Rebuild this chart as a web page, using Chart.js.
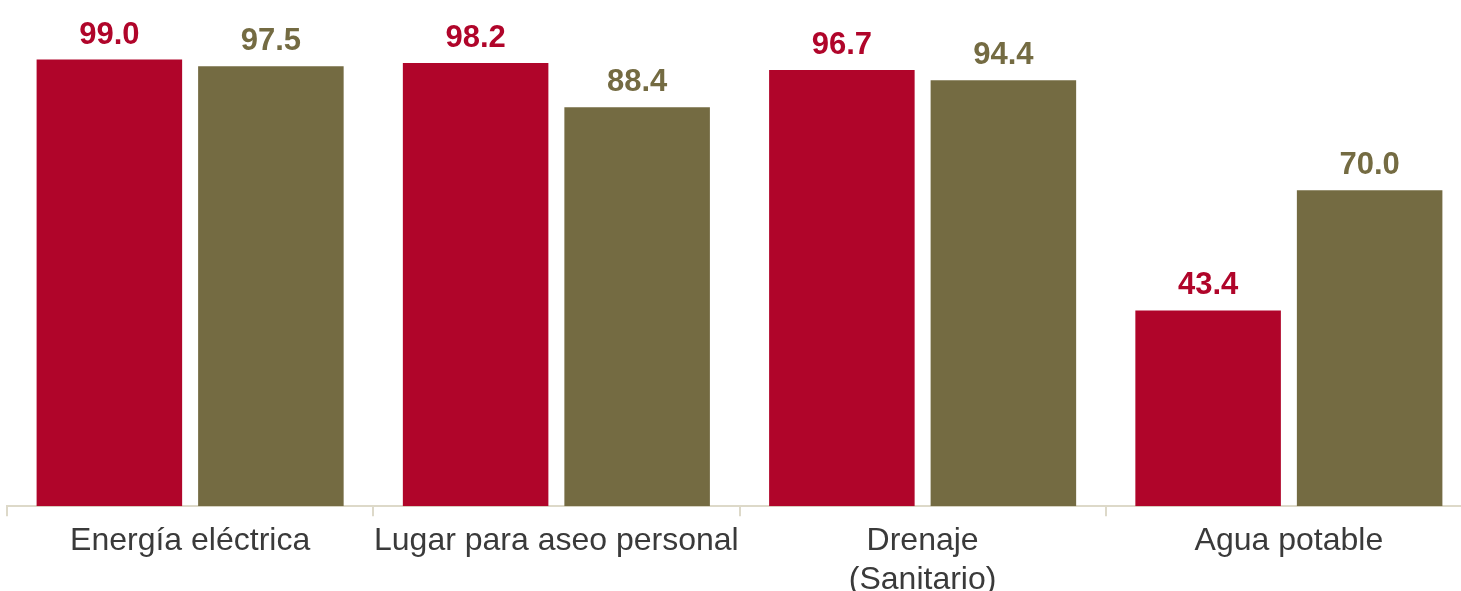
<!DOCTYPE html>
<html lang="es">
<head>
<meta charset="utf-8">
<title>Servicios en la vivienda</title>
<script src="https://cdn.jsdelivr.net/npm/chart.js@4/dist/chart.umd.min.js"></script>
<style>
    html, body { margin: 0; padding: 0; background: #fff; overflow: hidden; }
    /* el lienzo es algo mayor que la ventana: el rótulo de dos líneas queda recortado abajo */
    #wrap { position: relative; width: 1479px; height: 605px; }
</style>
</head>
<body>
<div id="wrap"><canvas id="servicios"></canvas></div>
<script>
const categorias = ['Energía eléctrica', 'Lugar para aseo personal', ['Drenaje', '(Sanitario)'], 'Agua potable'];
const serieRoja = [99.0, 98.2, 96.7, 43.4];
const serieOliva = [97.5, 88.4, 94.4, 70.0];

const ROJO = '#b0052a';
const OLIVA = '#746b42';

// valores encima de cada barra, del mismo color que la serie
const etiquetasValor = {
    id: 'etiquetasValor',
    afterDatasetsDraw(chart) {
        const ctx = chart.ctx;
        ctx.save();
        ctx.font = 'bold 31px "Liberation Sans", Arial, sans-serif';
        ctx.textAlign = 'center';
        ctx.textBaseline = 'alphabetic';
        chart.data.datasets.forEach((ds, i) => {
            const meta = chart.getDatasetMeta(i);
            ctx.fillStyle = ds.backgroundColor;
            meta.data.forEach((bar, j) => {
                ctx.fillText(ds.data[j].toFixed(1), bar.x, bar.y - 16);
            });
        });
        ctx.restore();
    }
};

new Chart(document.getElementById('servicios'), {
    type: 'bar',
    data: {
        labels: categorias,
        datasets: [
            { label: 'Serie 1', data: serieRoja, backgroundColor: ROJO },
            { label: 'Serie 2', data: serieOliva, backgroundColor: OLIVA }
        ]
    },
    options: {
        responsive: true,
        maintainAspectRatio: false,
        animation: false,
        categoryPercentage: 0.882,
        barPercentage: 0.901,
        layout: { padding: { top: 55, left: 7, right: 7, bottom: 0 } },
        plugins: {
            legend: { display: false },
            tooltip: { enabled: false }
        },
        scales: {
            y: {
                display: false,
                min: 0,
                max: 100
            },
            x: {
                border: { color: '#ddd9c9', width: 2 },
                grid: {
                    drawOnChartArea: false,
                    color: '#ddd9c9',
                    lineWidth: 2,
                    tickLength: 10,
                    offset: true
                },
                ticks: {
                    color: '#3a3a3a',
                    font: { family: '"Liberation Sans", Arial, sans-serif', size: 32, lineHeight: 1.2 },
                    maxRotation: 0,
                    autoSkip: false,
                    padding: 6
                }
            }
        }
    },
    plugins: [etiquetasValor]
});
</script>
</body>
</html>
